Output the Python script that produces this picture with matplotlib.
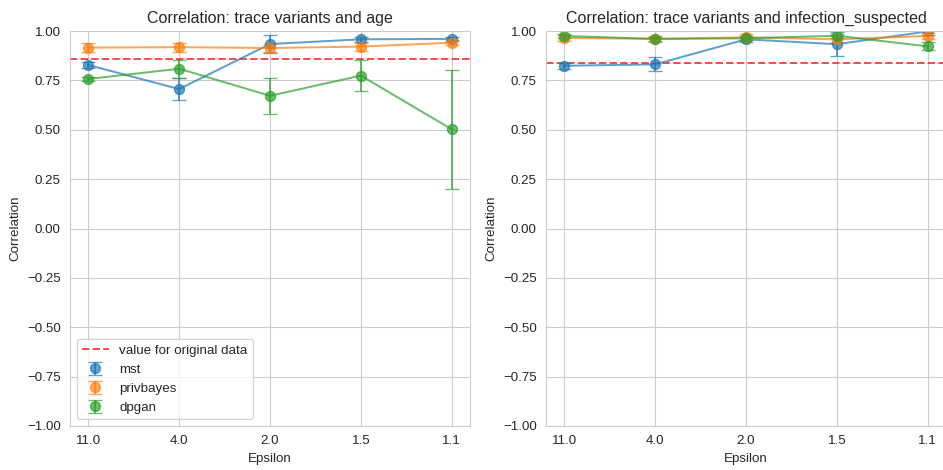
import matplotlib
matplotlib.use("Agg")
import matplotlib.pyplot as plt
import seaborn as sns
import numpy as np

sns.set_style("whitegrid")
plt.rcParams["font.family"] = ["Liberation Sans", "DejaVu Sans"]

epsilons = ["11.0", "4.0", "2.0", "1.5", "1.1"]
methods = ["mst", "privbayes", "dpgan"]

# correlation: trace variants and age
age_mean = {
    "mst":       [0.828, 0.706, 0.934, 0.958, 0.960],
    "privbayes": [0.916, 0.918, 0.914, 0.921, 0.941],
    "dpgan":     [0.757, 0.809, 0.672, 0.774, 0.502],
}
age_err = {
    "mst":       [0.015, 0.055, 0.045, 0.012, 0.010],
    "privbayes": [0.022, 0.022, 0.020, 0.020, 0.012],
    "dpgan":     [0.010, 0.045, 0.090, 0.080, 0.300],
}
age_original = 0.857

# correlation: trace variants and infection_suspected
inf_mean = {
    "mst":       [0.824, 0.831, 0.958, 0.933, 0.998],
    "privbayes": [0.965, 0.960, 0.968, 0.958, 0.975],
    "dpgan":     [0.975, 0.960, 0.963, 0.976, 0.922],
}
inf_err = {
    "mst":       [0.015, 0.035, 0.012, 0.060, 0.020],
    "privbayes": [0.015, 0.015, 0.015, 0.015, 0.015],
    "dpgan":     [0.010, 0.010, 0.010, 0.010, 0.020],
}
inf_original = 0.84

panels = [
    ("Correlation: trace variants and age", age_mean, age_err, age_original),
    ("Correlation: trace variants and infection_suspected", inf_mean, inf_err, inf_original),
]

DPI = 96
fig, axes = plt.subplots(1, 2, figsize=(943 / DPI, 470 / DPI), dpi=DPI)
x = np.arange(len(epsilons))

for i, (ax, (title, means, errs, orig)) in enumerate(zip(axes, panels)):
    ax.axhline(orig, color="red", linestyle="--", alpha=0.7,
               label="value for original data")
    for j, m in enumerate(methods):
        c = "C%d" % j
        ax.errorbar(x, means[m], yerr=errs[m], fmt="o", color=c, capsize=5,
                    markersize=7.5, alpha=0.7, label=m)
        ax.plot(x, means[m], color=c, alpha=0.7)  # connecting line, no legend
    ax.set_xticks(x)
    ax.set_xticklabels(epsilons)
    ax.set_ylim(-1, 1)
    ax.set_yticks(np.arange(-1, 1.01, 0.25))
    ax.set_title(title, fontsize=12)
    ax.set_xlabel("Epsilon")
    ax.set_ylabel("Correlation")
    if i == 0:
        ax.legend(loc="lower left")

fig.subplots_adjust(left=70 / 943, right=946 / 943, top=1 - 31 / 470,
                    bottom=1 - 426 / 470, wspace=0.19)
plt.savefig("out.png", dpi=DPI)
